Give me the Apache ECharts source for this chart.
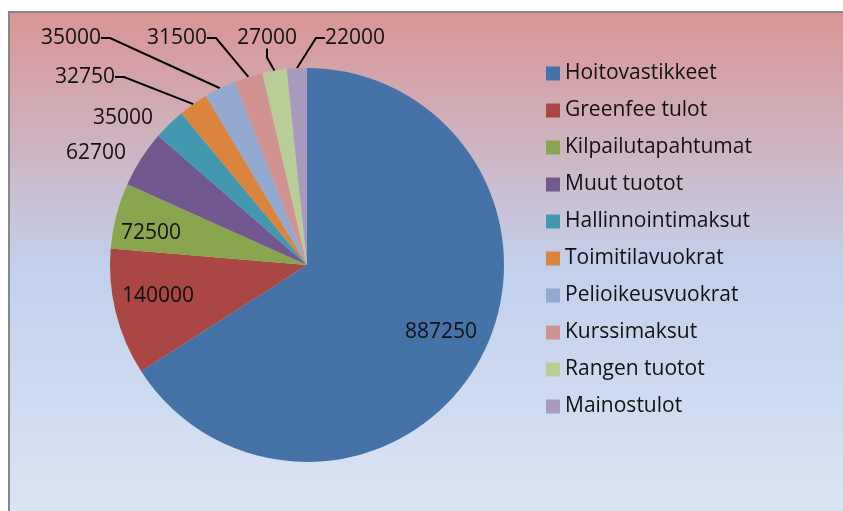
<!DOCTYPE html>
<html>
<head>
<meta charset="utf-8">
<script src="https://cdn.jsdelivr.net/npm/echarts@6/dist/echarts.min.js"></script>
<style>
  html, body { margin: 0; padding: 0; background: #ffffff; width: 843px; height: 511px; overflow: hidden; }
  #frame {
    position: absolute; left: 8px; top: 11px; width: 845px; height: 510px;
    border-top: 2px solid #878787; border-left: 2px solid #878787;
    background: linear-gradient(to bottom, #D99594 0%, #CDB5C3 27%, #C2D0EB 50%, #CCD9EF 72%, #DDE5F3 100%);
  }
  #chart { position: absolute; left: 0; top: 0; width: 843px; height: 511px; }
</style>
</head>
<body>
<div id="frame"></div>
<div id="chart"></div>
<script>
// ---- data ----
const categories = ['Hoitovastikkeet', 'Greenfee tulot', 'Kilpailutapahtumat', 'Muut tuotot',
  'Hallinnointimaksut', 'Toimitilavuokrat', 'Pelioikeusvuokrat', 'Kurssimaksut',
  'Rangen tuotot', 'Mainostulot'];
const values = [887250, 140000, 72500, 62700, 35000, 32750, 35000, 31500, 27000, 22000];

// ---- style ----
const colors = ['#4572A7', '#AA4643', '#89A54E', '#71588F', '#4198AF', '#DB843D',
  '#93A9CF', '#D19392', '#B9CD96', '#A99BBD'];
const pieCenter = [307, 265];
const pieRadius = 197;
// inside label placement (center x, middle y)
const insidePos = { 0: [441, 332], 1: [158, 296], 2: [151, 233] };
// outside label placement (left x, middle y)
const outsidePos = {
  3: [66, 153], 4: [93, 118], 5: [55, 77], 6: [41, 38],
  7: [147, 38], 8: [237, 38], 9: [325, 38]
};
const noLine = { 3: true, 4: true };
const FONT = '"Open Sans", "Noto Sans", sans-serif';

const data = categories.map((name, i) => {
  const item = { name: name, value: values[i], itemStyle: { color: colors[i] } };
  if (insidePos[i] != null) {
    item.label = { position: 'inside' };
    item.labelLine = { show: false };
  } else if (noLine[i]) {
    item.labelLine = { show: false };
  }
  return item;
});

const chart = echarts.init(document.getElementById('chart'), null, { renderer: 'canvas' });
chart.setOption({
  backgroundColor: 'transparent',
  animation: false,
  legend: {
    orient: 'vertical',
    left: 546,
    top: 63,
    padding: 0,
    itemWidth: 14,
    itemHeight: 14,
    itemGap: 16,
    icon: 'rect',
    textStyle: { fontFamily: FONT, fontSize: 21, lineHeight: 21, color: '#111' },
    data: categories
  },
  series: [{
    type: 'pie',
    center: pieCenter,
    radius: pieRadius,
    startAngle: 90,
    clockwise: true,
    avoidLabelOverlap: false,
    data: data,
    itemStyle: { borderWidth: 0 },
    label: {
      show: true,
      position: 'outside',
      formatter: '{c}',
      color: '#111',
      fontFamily: FONT,
      fontSize: 21
    },
    labelLine: {
      show: true,
      length: 10,
      length2: 9,
      lineStyle: { color: '#000', width: 2 }
    },
    emphasis: { disabled: true },
    labelLayout: function (p) {
      const i = p.dataIndex;
      if (insidePos[i] != null) {
        return { x: insidePos[i][0], y: insidePos[i][1], align: 'center', verticalAlign: 'middle' };
      }
      const pos = outsidePos[i];
      return { x: pos[0], y: pos[1], align: 'left', verticalAlign: 'middle' };
    }
  }]
});
</script>
</body>
</html>
